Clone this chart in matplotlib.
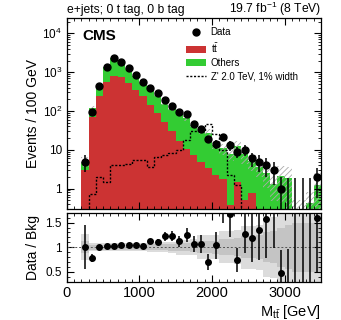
import numpy as np
import matplotlib
matplotlib.use('Agg')
import matplotlib.pyplot as plt
from matplotlib.lines import Line2D
from matplotlib.patches import Patch
from matplotlib.ticker import MultipleLocator, LogLocator, FuncFormatter, NullFormatter

plt.rcParams['font.family'] = ['Liberation Sans', 'DejaVu Sans']
plt.rcParams['mathtext.fontset'] = 'custom'
plt.rcParams['mathtext.rm'] = 'Liberation Sans'
plt.rcParams['mathtext.it'] = 'Liberation Sans:italic'
plt.rcParams['mathtext.bf'] = 'Liberation Sans:bold'
plt.rcParams['hatch.linewidth'] = 0.6

# Binning: 100 GeV bins from 200 to 3500 GeV
edges = np.arange(200, 3600, 100)
centers = edges[:-1] + 50

# Data counts per bin
data = [5, 95, 430, 1390, 2330, 1870, 1290, 830, 560, 400, 285, 190, 136, 96, 82,
        46, 35, 19, 14, 21, 13, 9, 10, 6, 5, 4, 3, 1, 0, 0, 0, 0, 2]

# ttbar background
ttbar = [3.0, 70, 240, 550, 780, 760, 530, 355, 240, 146, 89, 52, 30, 16.6, 10.7,
         7.5, 5.0, 3.4, 2.3, 1.8, 0.38, 1.5, 0.52, 0.77, 0, 0, 0, 0, 0, 0, 0, 0, 0]

# other backgrounds
others = [2.0, 52, 190, 810, 1500, 1020, 710, 435, 310, 211, 170, 104, 81, 69, 55,
          35.5, 28, 23.6, 11.2, 9.2, 7.4, 10.8, 7.3, 4.3, 3.7, 2.55, 1.3, 2.1, 1.9,
          0.25, 0.25, 0.42, 1.25]

# Z' 2.0 TeV, 1% width signal
zprime = [0, 0.72, 2.0, 1.5, 4.0, 4.0, 4.3, 5.6, 5.6, 3.6, 6.5, 7.2, 8.5, 10, 18,
          30, 30, 45, 26, 10, 2.2, 1.25, 0, 0, 0, 0, 0, 0, 0, 0, 0, 0, 0]

# relative background uncertainty (total, and inner component)
unc_tot = [0.27, 0.08, 0.08, 0.08, 0.08, 0.08, 0.08, 0.08, 0.08, 0.10, 0.10, 0.10,
           0.11, 0.15, 0.15, 0.16, 0.24, 0.24, 0.24, 0.32, 0.32, 0.34, 0.44, 0.44,
           0.46, 0.6, 0.62, 0.8, 0.9, 1.0, 1.0, 1.0, 1.0]
unc_in = [0.12, 0.05, 0.05, 0.05, 0.05, 0.05, 0.05, 0.05, 0.05, 0.06, 0.06, 0.06,
          0.07, 0.08, 0.08, 0.09, 0.12, 0.12, 0.13, 0.16, 0.16, 0.18, 0.22, 0.22,
          0.25, 0.3, 0.32, 0.4, 0.45, 0.5, 0.5, 0.5, 0.5]

data = np.array(data, dtype=float)
ttbar = np.array(ttbar, dtype=float)
others = np.array(others, dtype=float)
zprime = np.array(zprime, dtype=float)
unc_tot = np.array(unc_tot)
unc_in = np.array(unc_in)
bkg = ttbar + others

red = '#CC3333'
green = '#33CC33'
floor = 1e-3

fig = plt.figure(figsize=(3.41, 3.2), dpi=100)
ax = fig.add_axes([0.196, 0.347, 0.745, 0.597])
ax2 = fig.add_axes([0.196, 0.12, 0.745, 0.215])

# --- main panel ---
ax.stairs(np.maximum(ttbar, floor), edges, baseline=floor, fill=True, color=red, lw=0)
ax.stairs(bkg, edges, baseline=np.maximum(ttbar, floor), fill=True, color=green, lw=0)
ax.stairs(bkg * (1 + unc_tot), edges, baseline=np.maximum(bkg * (1 - unc_tot), floor),
          fill=True, facecolor='none', edgecolor='#aaaaaa', hatch='//////', lw=0)
ax.stairs(np.maximum(zprime, floor), edges, baseline=None, color='black', lw=1.0,
          linestyle=(0, (1.5, 1.2)))

pos = data > 0
err_lo = np.where(pos, np.minimum(np.sqrt(data), data * 0.9999), 0)
err_hi = np.where(pos, np.sqrt(data), 1.84)
ax.errorbar(centers[pos], data[pos], yerr=[err_lo[pos], err_hi[pos]], fmt='o',
            color='black', ms=5, elinewidth=1.1, capsize=0, zorder=5)
ax.vlines(centers[~pos], floor, err_hi[~pos], color='black', lw=1.1, zorder=5)

ax.set_yscale('log')
ax.set_xlim(0, 3500)
ax.set_ylim(0.3, 2.5e4)
ax.set_ylabel('Events / 100 GeV', fontsize=10, labelpad=2)


def logfmt(v, pos=None):
    if abs(v - 1) < 1e-9:
        return '1'
    if abs(v - 10) < 1e-9:
        return '10'
    return r'$10^{%d}$' % int(round(np.log10(v)))


ax.yaxis.set_major_locator(LogLocator(base=10, numticks=10))
ax.yaxis.set_major_formatter(FuncFormatter(logfmt))
ax.yaxis.set_minor_locator(LogLocator(base=10, subs=np.arange(2, 10), numticks=20))
ax.yaxis.set_minor_formatter(NullFormatter())
ax.xaxis.set_major_locator(MultipleLocator(1000))
ax.xaxis.set_minor_locator(MultipleLocator(100))
ax.tick_params(labelbottom=False)

ax.text(0.063, 0.905, 'CMS', transform=ax.transAxes, fontsize=11, fontweight='bold',
        va='center', ha='left')
ax.set_title('e+jets; 0 t tag, 0 b tag', loc='left', fontsize=8.7, pad=2)
ax.set_title(r'19.7 fb$^{-1}$ (8 TeV)', loc='right', fontsize=8.7, pad=2)

handles = [Line2D([], [], marker='o', color='black', ls='none', ms=5),
           Patch(facecolor=red, edgecolor='none'),
           Patch(facecolor=green, edgecolor='none'),
           Line2D([], [], color='black', lw=1.0, ls=(0, (1.5, 1.2)))]
labels = ['Data', r'$\mathrm{t\bar{t}}$', 'Others', "Z' 2.0 TeV, 1% width"]
ax.legend(handles, labels, loc='upper left', bbox_to_anchor=(0.47, 0.95), frameon=False,
          fontsize=7, handlelength=2.0, handletextpad=0.5, labelspacing=0.35,
          borderpad=0, borderaxespad=0)

# --- ratio panel ---
ax2.stairs(1 + unc_tot, edges, baseline=1 - unc_tot, fill=True, color='#dcdcdc', lw=0)
ax2.stairs(1 + unc_in, edges, baseline=1 - unc_in, fill=True, color='#c4c4c4', lw=0)
ax2.axhline(1, color='#555555', lw=0.7, ls=(0, (2, 2)))

ratio = data / bkg
r_lo = err_lo / bkg
r_hi = err_hi / bkg
ax2.errorbar(centers[pos], ratio[pos], yerr=[r_lo[pos], r_hi[pos]], fmt='o',
             color='black', ms=4, elinewidth=1.1, capsize=0, zorder=5, clip_on=True)
ax2.vlines(centers[~pos], 0, r_hi[~pos], color='black', lw=1.1, zorder=5)

ax2.set_xlim(0, 3500)
ax2.set_ylim(0.3, 1.7)
ax2.set_ylabel('Data / Bkg', fontsize=10, labelpad=4)
ax2.set_xlabel(r'M$_{\mathrm{t\bar{t}}}$ [GeV]', fontsize=10.5, loc='right', labelpad=2)
ax2.yaxis.set_major_locator(MultipleLocator(0.5))
ax2.yaxis.set_major_formatter(FuncFormatter(lambda v, p: '1' if abs(v - 1) < 1e-9 else '%g' % v))
ax2.yaxis.set_minor_locator(MultipleLocator(0.1))
ax2.xaxis.set_major_locator(MultipleLocator(1000))
ax2.xaxis.set_minor_locator(MultipleLocator(100))

for a in (ax, ax2):
    a.tick_params(which='both', direction='in', top=True, right=True)
    a.tick_params(which='major', length=5, width=0.8)
    a.tick_params(which='minor', length=2.5, width=0.6)
    for s in a.spines.values():
        s.set_linewidth(0.9)
ax.tick_params(axis='y', labelsize=8.5)
ax2.tick_params(axis='y', labelsize=8.5)
ax2.tick_params(axis='x', labelsize=10.5, pad=3)

fig.savefig('out.png', dpi=100)
